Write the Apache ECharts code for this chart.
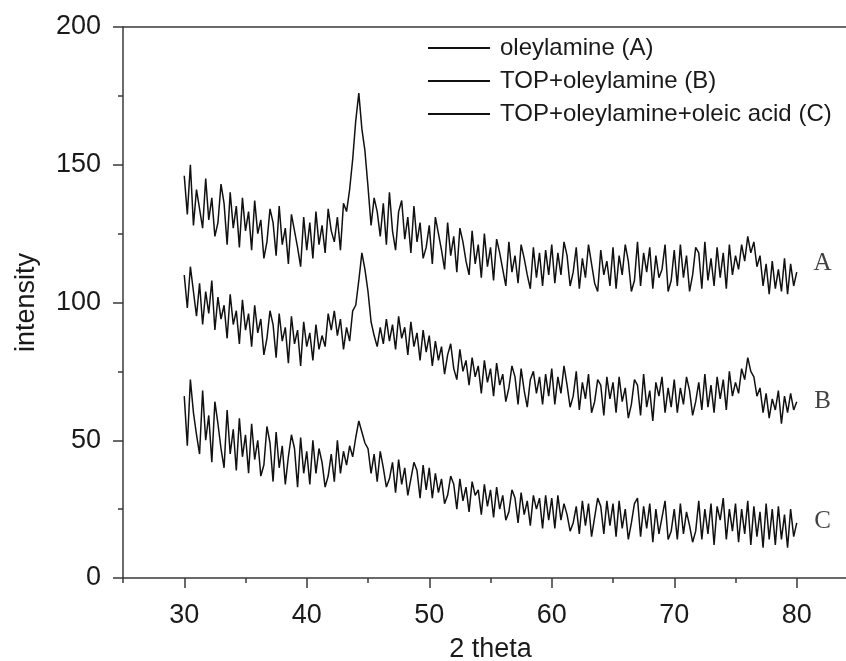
<!DOCTYPE html>
<html>
<head>
<meta charset="utf-8">
<script src="https://cdn.jsdelivr.net/npm/echarts@6/dist/echarts.min.js"></script>
<style>
  html, body { margin: 0; padding: 0; background: #fff; }
  #chart { width: 846px; height: 661px; }
</style>
</head>
<body>
<div id="chart"></div>
<script>
// 2 theta from 30 to 80, step 0.25
const thetaStart = 30
const thetaStep = 0.25

const seriesNames = ['oleylamine (A)', 'TOP+oleylamine (B)', 'TOP+oleylamine+oleic acid (C)']

const intensityA = [
  146, 132, 150, 128, 141, 134, 127, 145, 130, 138, 124, 129, 143, 136, 121, 140, 127, 135, 120, 138,
  126, 133, 119, 137, 125, 130, 116, 122, 134, 129, 117, 135, 121, 127, 114, 132, 126, 120, 113, 131,
  119, 129, 116, 133, 121, 128, 118, 134, 126, 122, 131, 119, 136, 133, 141, 152, 166, 176, 163, 155,
  142, 128, 138, 133, 124, 136, 121, 140, 126, 119, 133, 137, 123, 131, 118, 135, 122, 129, 116, 120,
  128, 114, 131, 125, 119, 112, 129, 117, 124, 111, 127, 122, 115, 110, 126, 114, 121, 109, 125, 113,
  120, 108, 123, 118, 112, 106, 122, 111, 117, 107, 121, 116, 110, 105, 120, 109, 118, 106, 119, 110,
  121, 107, 118, 110, 122, 117, 106, 111, 120, 105, 116, 109, 121, 114, 107, 104, 119, 110, 115, 106,
  120, 105, 117, 110, 121, 115, 104, 108, 122, 106, 118, 111, 120, 105, 117, 109, 112, 121, 104, 108,
  119, 106, 121, 109, 117, 104, 110, 120, 118, 105, 122, 108, 116, 106, 120, 109, 118, 105, 121, 110,
  117, 112, 121, 115, 124, 118, 122, 113, 117, 106, 114, 103, 115, 105, 112, 104, 116, 103, 114, 106,
  111
]

const intensityB = [
  110, 98, 113, 104, 95, 107, 92, 104, 96, 108, 90, 102, 94, 99, 87, 103, 92, 97, 85, 101,
  90, 96, 84, 99, 89, 94, 81, 87, 97, 92, 80, 96, 86, 91, 78, 95, 85, 90, 77, 93,
  84, 89, 79, 92, 83, 88, 84, 96, 90, 97, 88, 94, 83, 91, 86, 97, 99, 108, 118, 112,
  104, 93, 88, 84, 91, 85, 94, 86, 92, 83, 95, 87, 91, 81, 93, 84, 89, 79, 90, 82,
  88, 77, 86, 79, 84, 74, 81, 85, 76, 72, 83, 75, 79, 70, 80, 73, 77, 67, 79, 71,
  76, 66, 78, 70, 74, 64, 69, 77, 73, 63, 76, 68, 62, 72, 75, 67, 73, 63, 74, 66,
  76, 63, 73, 67, 77, 70, 62, 66, 75, 61, 71, 65, 74, 60, 64, 72, 70, 59, 73, 65,
  71, 60, 73, 64, 69, 58, 63, 72, 70, 59, 74, 62, 68, 57, 71, 66, 73, 60, 69, 62,
  72, 60, 69, 63, 73, 68, 59, 64, 71, 61, 74, 62, 70, 60, 73, 65, 72, 61, 75, 66,
  71, 67, 76, 72, 80, 75, 73, 66, 69, 60, 67, 58, 65, 61, 68, 56, 66, 60, 67, 61,
  64
]

const intensityC = [
  66, 48, 72, 60, 52, 45, 68, 50, 59, 42, 64, 56, 47, 40, 61, 45, 54, 39, 58, 44,
  52, 38, 56, 43, 50, 37, 41, 55, 49, 35, 53, 40, 48, 34, 44, 52, 47, 33, 51, 38,
  46, 34, 50, 38, 47, 42, 33, 37, 45, 35, 50, 38, 46, 41, 48, 44, 51, 57, 53, 49,
  47, 38, 45, 35, 46, 40, 33, 36, 42, 31, 43, 34, 40, 30, 36, 42, 39, 29, 41, 32,
  40, 29, 38, 31, 36, 27, 30, 37, 34, 25, 36, 28, 33, 24, 35, 30, 32, 23, 34, 26,
  32, 22, 33, 25, 30, 21, 24, 32, 29, 20, 31, 23, 28, 19, 30, 25, 29, 18, 30, 21,
  29, 18, 30, 21, 27, 23, 17, 20, 26, 16, 28, 19, 27, 15, 22, 29, 26, 16, 28, 19,
  27, 15, 28, 18, 25, 14, 20, 27, 29, 15, 26, 18, 27, 13, 25, 16, 22, 28, 14, 17,
  25, 14, 27, 16, 24, 19, 13, 17, 28, 14, 25, 16, 27, 12, 26, 21, 29, 14, 25, 17,
  27, 13, 25, 16, 28, 12, 26, 15, 24, 11, 27, 14, 25, 12, 26, 14, 23, 11, 25, 15,
  20
]

// curve letters at the right end
const tagNames = ['A', 'B', 'C']
const tagX = [82.1, 82.1, 82.1]
const tagY = [114, 64, 20.5]

const xMajorTicks = [30, 40, 50, 60, 70, 80]
const xMinorTicks = [25, 35, 45, 55, 65, 75, 85]

function toPairs(values) {
  return values.map((v, i) => [thetaStart + i * thetaStep, v])
}

const axisColor = '#3a3a3a'
const textColor = '#1a1a1a'
const sansFont = '"Liberation Sans", Arial, Helvetica, sans-serif'

const myChart = echarts.init(document.getElementById('chart'))

const option = {
  animation: false,
  backgroundColor: '#fff',
  grid: {
    left: 123,
    width: 735, // the frame runs past the right edge of the picture
    top: 27,
    bottom: 83,
    outerBoundsMode: 'none'
  },
  legend: {
    orient: 'vertical',
    left: 428,
    top: 36,
    padding: 0,
    icon: 'rect',
    itemWidth: 62,
    itemHeight: 2,
    itemGap: 9,
    data: seriesNames,
    textStyle: {
      color: textColor,
      fontFamily: sansFont,
      fontSize: 24,
      lineHeight: 24,
      padding: [0, 0, 0, 5]
    }
  },
  xAxis: [
    {
      type: 'value',
      min: 25,
      max: 85,
      name: '2 theta',
      nameLocation: 'middle',
      nameGap: 58,
      nameTextStyle: { color: textColor, fontFamily: sansFont, fontSize: 27 },
      splitLine: { show: false },
      axisLine: { show: true, lineStyle: { color: axisColor, width: 1.5 } },
      axisTick: {
        show: true,
        length: 10,
        customValues: xMajorTicks,
        lineStyle: { color: axisColor, width: 1.5 }
      },
      axisLabel: {
        customValues: xMajorTicks,
        margin: 24,
        color: textColor,
        fontFamily: sansFont,
        fontSize: 27
      }
    },
    {
      // short ticks at the odd fives
      type: 'value',
      position: 'bottom',
      min: 25,
      max: 85,
      splitLine: { show: false },
      axisLine: { show: false },
      axisTick: {
        show: true,
        length: 5,
        customValues: xMinorTicks,
        lineStyle: { color: axisColor, width: 1.5 }
      },
      axisLabel: { show: false }
    },
    {
      // frame line on top
      type: 'value',
      position: 'top',
      min: 25,
      max: 85,
      splitLine: { show: false },
      axisLine: { show: true, lineStyle: { color: axisColor, width: 1.5 } },
      axisTick: { show: false },
      axisLabel: { show: false }
    }
  ],
  yAxis: {
    type: 'value',
    min: 0,
    max: 200,
    interval: 50,
    name: 'intensity',
    nameLocation: 'middle',
    nameGap: 83,
    nameTextStyle: { color: textColor, fontFamily: sansFont, fontSize: 27 },
    splitLine: { show: false },
    axisLine: { show: true, lineStyle: { color: axisColor, width: 1.5 } },
    axisTick: { show: true, length: 10, lineStyle: { color: axisColor, width: 1.5 } },
    minorTick: { show: true, splitNumber: 2, length: 5, lineStyle: { color: axisColor, width: 1.5 } },
    axisLabel: {
      margin: 22,
      color: textColor,
      fontFamily: sansFont,
      fontSize: 27
    }
  },
  series: [
    {
      name: seriesNames[0],
      type: 'line',
      symbol: 'none',
      color: '#111',
      lineStyle: { color: '#111', width: 1.5 },
      data: toPairs(intensityA)
    },
    {
      name: seriesNames[1],
      type: 'line',
      symbol: 'none',
      color: '#111',
      lineStyle: { color: '#111', width: 1.5 },
      data: toPairs(intensityB)
    },
    {
      name: seriesNames[2],
      type: 'line',
      symbol: 'none',
      color: '#111',
      lineStyle: { color: '#111', width: 1.5 },
      data: toPairs(intensityC)
    },
    {
      name: 'tags',
      type: 'scatter',
      symbolSize: 0,
      silent: true,
      label: {
        show: true,
        position: 'inside',
        formatter: p => p.data[2],
        color: '#111',
        fontFamily: '"Liberation Serif", "Times New Roman", serif',
        fontSize: 25
      },
      data: tagNames.map((t, i) => [tagX[i], tagY[i], t])
    }
  ]
}

myChart.setOption(option)
</script>
</body>
</html>
